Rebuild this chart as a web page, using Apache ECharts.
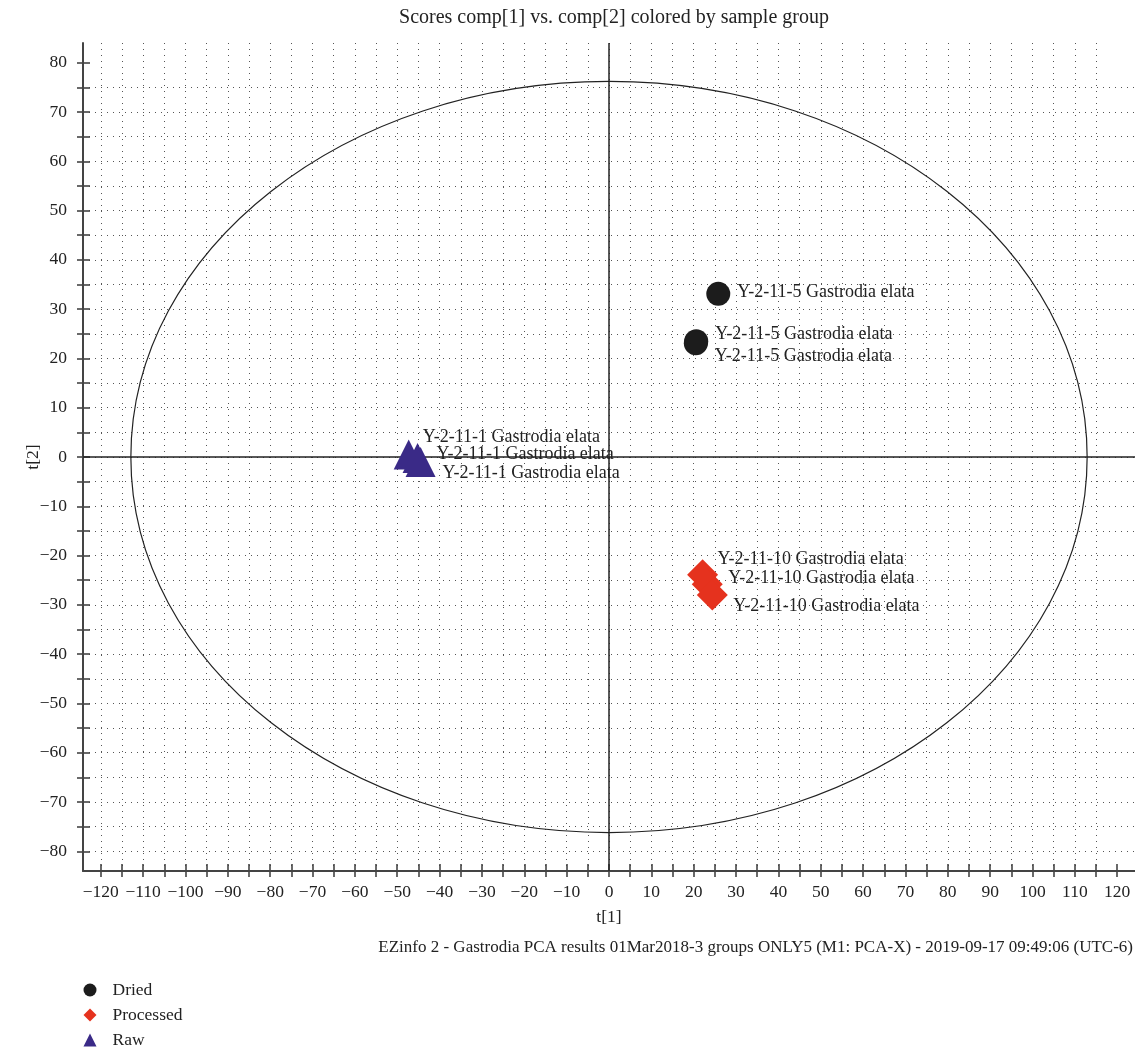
<!DOCTYPE html>
<html>
<head>
<meta charset="utf-8">
<script src="https://cdn.jsdelivr.net/npm/echarts@6/dist/echarts.min.js"></script>
<style>
  html, body { margin: 0; padding: 0; background: #fff; }
  #chart { width: 1135px; height: 1049px; }
</style>
</head>
<body>
<div id="chart"></div>
<script>
// PCA score values (t[1], t[2]) per sample group
const groupNames = ['Dried', 'Processed', 'Raw'];
const driedT1 = [25.8, 20.6, 20.5];
const driedT2 = [33.1, 23.5, 23.1];
const processedT1 = [22.1, 23.2, 24.4];
const processedT2 = [-23.9, -25.8, -28.0];
const rawT1 = [-47.3, -45.2, -44.5];
const rawT2 = [0.5, -0.2, -1.0];
const driedLabels = ['Y-2-11-5 Gastrodia elata', 'Y-2-11-5 Gastrodia elata', 'Y-2-11-5 Gastrodia elata'];
const processedLabels = ['Y-2-11-10 Gastrodia elata', 'Y-2-11-10 Gastrodia elata', 'Y-2-11-10 Gastrodia elata'];
const rawLabels = ['Y-2-11-1 Gastrodia elata', 'Y-2-11-1 Gastrodia elata', 'Y-2-11-1 Gastrodia elata'];

// Hotelling T2 ellipse semi-axes (t[1], t[2])
const ellipseRadii = [112.9, 76.2];

// axis ranges and tick values
const xRange = [-124.2, 124.2];
const yRange = [-84, 84];
const xTicks = [];
for (let v = -120; v <= 120; v += 5) xTicks.push(v);
const yTicks = [];
for (let v = -80; v <= 80; v += 5) yTicks.push(v);
const xTickLabels = xTicks.filter(v => v % 10 === 0);
const yTickLabels = yTicks.filter(v => v % 10 === 0);

// label placement (px from marker centre to label left edge / vertical middle)
const driedLabelShift = [[19, -2], [19, -7], [19, 13]];
const processedLabelShift = [[15, -16], [21, -6], [21, 11]];
const rawLabelShift = [[14, -17], [19, -4], [22, 11]];

const FONT = '"Liberation Serif", "DejaVu Serif", serif';
const INK = '#222';

function fmt(v) {
  return v < 0 ? '\u2212' + Math.abs(v) : String(v);
}

function points(xs, ys, names, shifts, size) {
  return xs.map((x, i) => ({
    value: [x, ys[i]],
    name: names[i],
    label: { offset: [shifts[i][0] - size / 2, shifts[i][1]] }
  }));
}

function groupSeries(name, color, symbol, size, xs, ys, names, shifts) {
  return {
    type: 'scatter',
    name: name,
    symbol: symbol,
    symbolSize: size,
    itemStyle: { color: color, opacity: 1 },
    label: {
      show: true,
      position: 'right',
      distance: 0,
      formatter: p => p.name,
      color: INK,
      fontFamily: FONT,
      fontSize: 18
    },
    emphasis: { disabled: true },
    z: 5,
    data: points(xs, ys, names, shifts, size)
  };
}

const tickLine = { color: '#444', width: 1.6 };
const gridLine = { color: '#555', width: 1, type: [1, 5] };

const chart = echarts.init(document.getElementById('chart'), null, { renderer: 'canvas' });
chart.setOption({
  animation: false,
  backgroundColor: '#fff',
  textStyle: { fontFamily: FONT },
  title: {
    text: 'Scores comp[1] vs. comp[2] colored by sample group',
    left: 609,
    top: 3,
    textAlign: 'center',
    textStyle: { fontFamily: FONT, fontSize: 20, fontWeight: 'normal', color: INK }
  },
  legend: {
    orient: 'vertical',
    left: 83.5,
    top: 981,
    width: 200,
    height: 120,
    padding: 0,
    itemWidth: 13,
    itemHeight: 13,
    itemGap: 7,
    data: groupNames,
    textStyle: { fontFamily: FONT, fontSize: 17.5, lineHeight: 13, color: INK, padding: [0, 0, 0, 11] }
  },
  grid: { left: 83, right: 0, top: 43, bottom: 178, containLabel: false },
  xAxis: [{
    type: 'value',
    min: xRange[0], max: xRange[1],
    splitNumber: 50,
    position: 'bottom',
    name: 't[1]',
    nameLocation: 'middle',
    nameGap: 37,
    nameTextStyle: { fontFamily: FONT, fontSize: 17.5, color: INK },
    axisLine: { onZero: false, lineStyle: { color: '#444', width: 2 } },
    axisTick: { show: true, inside: false, length: 6, customValues: xTicks, lineStyle: tickLine },
    axisLabel: { customValues: xTickLabels, formatter: fmt, margin: 12, fontFamily: FONT, fontSize: 17.5, color: INK },
    splitLine: { show: true, showMaxLine: false, lineStyle: gridLine }
  }, {
    type: 'value',
    min: xRange[0], max: xRange[1],
    splitNumber: 50,
    position: 'bottom',
    axisLine: { show: false, onZero: false },
    axisTick: { show: true, inside: true, length: 7, customValues: xTicks, lineStyle: tickLine },
    axisLabel: { show: false },
    splitLine: { show: false }
  }],
  yAxis: [{
    type: 'value',
    min: yRange[0], max: yRange[1],
    splitNumber: 34,
    position: 'left',
    name: 't[2]',
    nameLocation: 'middle',
    nameGap: 41,
    nameMoveOverlap: false,
    nameRotate: 90,
    nameTextStyle: { fontFamily: FONT, fontSize: 17.5, color: INK },
    axisLine: { onZero: false, lineStyle: { color: '#444', width: 2 } },
    axisTick: { show: true, inside: false, length: 6, customValues: yTicks, lineStyle: tickLine },
    axisLabel: { customValues: yTickLabels, formatter: fmt, margin: 16, fontFamily: FONT, fontSize: 17.5, color: INK },
    splitLine: { show: true, showMaxLine: false, lineStyle: gridLine }
  }, {
    type: 'value',
    min: yRange[0], max: yRange[1],
    splitNumber: 34,
    position: 'left',
    axisLine: { show: false, onZero: false },
    axisTick: { show: true, inside: true, length: 7, customValues: yTicks, lineStyle: tickLine },
    axisLabel: { show: false },
    splitLine: { show: false }
  }],
  graphic: [{
    type: 'text',
    right: 2,
    top: 939,
    style: {
      text: 'EZinfo 2 - Gastrodia PCA results 01Mar2018-3 groups ONLY5 (M1: PCA-X) - 2019-09-17 09:49:06 (UTC-6)',
      font: '17px ' + FONT,
      fill: INK
    }
  }],
  series: [
    {
      // confidence ellipse and the zero reference lines
      type: 'custom',
      silent: true,
      z: 2,
      data: [[0, 0]],
      renderItem: function (params, api) {
        const c = api.coord([0, 0]);
        const s = api.size([ellipseRadii[0], ellipseRadii[1]]);
        return {
          type: 'ellipse',
          shape: { cx: c[0], cy: c[1], rx: s[0], ry: s[1] },
          style: { fill: null, stroke: INK, lineWidth: 1.2 }
        };
      },
      markLine: {
        silent: true,
        symbol: 'none',
        label: { show: false },
        lineStyle: { color: INK, width: 1.5, type: 'solid' },
        data: [{ xAxis: 0 }, { yAxis: 0 }]
      }
    },
    groupSeries('Dried', '#1c1c1c', 'circle', 24, driedT1, driedT2, driedLabels, driedLabelShift),
    groupSeries('Processed', '#e5321e', 'diamond', 31, processedT1, processedT2, processedLabels, processedLabelShift),
    groupSeries('Raw', '#3a2a87', 'triangle', 30, rawT1, rawT2, rawLabels, rawLabelShift)
  ]
});
</script>
</body>
</html>
